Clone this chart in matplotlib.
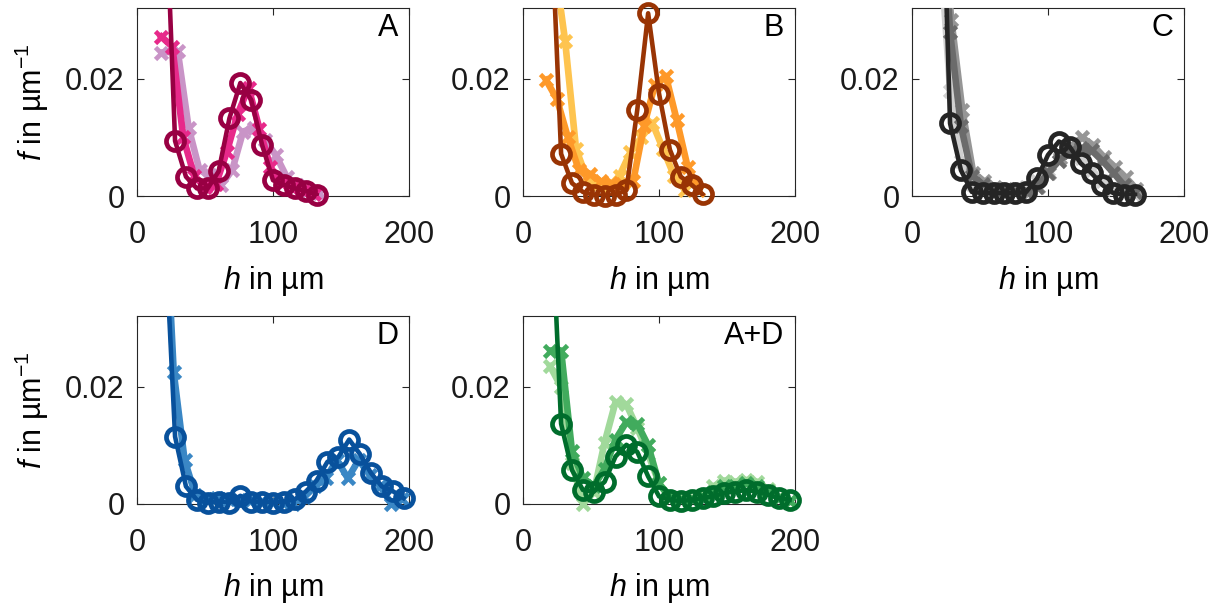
import numpy as np
import matplotlib
matplotlib.use('Agg')
import matplotlib.pyplot as plt

plt.rcParams['font.family'] = ['Liberation Sans', 'DejaVu Sans']
plt.rcParams['mathtext.fontset'] = 'custom'
plt.rcParams['mathtext.rm'] = 'Liberation Sans'
plt.rcParams['mathtext.it'] = 'Liberation Sans:italic'

# Panel A
a_x_light = [18, 30, 38, 46, 54, 62, 70, 78, 86, 94, 102, 110, 118, 126, 134]
a_y_light = [0.0245, 0.0247, 0.0116, 0.0044, 0.0036, 0.0019, 0.0044, 0.0110, 0.0116, 0.0096,
             0.0070, 0.0033, 0.0019, 0.0010, 0.0005]
a_x_mid = [18, 26, 34, 42, 50, 58, 66, 74, 82, 90, 98, 106, 114, 122, 130]
a_y_mid = [0.0272, 0.0255, 0.0100, 0.0035, 0.0015, 0.0020, 0.0075, 0.0140, 0.0185, 0.0115,
           0.0050, 0.0022, 0.0013, 0.0008, 0.0004]
a_x_dark = [20, 28, 36, 44, 52, 60, 68, 76, 84, 92, 100, 108, 116, 124, 132]
a_y_dark = [0.058, 0.0094, 0.0033, 0.0013, 0.0013, 0.0042, 0.0133, 0.0193, 0.0164, 0.0087,
            0.0027, 0.0019, 0.0013, 0.0009, 0.0002]

# Panel B
b_x_light = [23, 31, 39, 47, 55, 63, 71, 79, 87, 95, 103, 111, 119]
b_y_light = [0.040, 0.0264, 0.0080, 0.0030, 0.0020, 0.0015, 0.0035, 0.0075, 0.0100, 0.0125,
             0.0080, 0.0035, 0.0010]
b_x_mid = [17, 25, 33, 41, 49, 57, 65, 73, 81, 89, 97, 105, 113, 121, 129]
b_y_mid = [0.0198, 0.0165, 0.0100, 0.0045, 0.0038, 0.0025, 0.0022, 0.0020, 0.0025, 0.0120,
           0.0190, 0.0205, 0.0130, 0.0050, 0.0010]
b_x_dark = [20, 28, 36, 44, 52, 60, 68, 76, 84, 92, 100, 108, 116, 124, 132]
b_y_dark = [0.0516, 0.0072, 0.0022, 0.0007, 0.0002, 0.0000, 0.0002, 0.0010, 0.0147, 0.0312,
            0.0175, 0.0079, 0.0033, 0.0019, 0.0003]

# Panel C
c_x = [20, 28, 36, 44, 52, 60, 68, 76, 84, 92, 100, 108, 116, 124, 132, 140, 148, 156, 164]
c_x_mid = [21, 29, 37, 45, 53, 61, 69, 77, 85, 93, 101, 109, 117, 125, 133, 141, 149, 157, 165]
c_y_light = [0.045, 0.018, 0.0060, 0.0020, 0.0010, 0.0008, 0.0008, 0.0010, 0.0015, 0.0025,
             0.0045, 0.0060, 0.0075, 0.0065, 0.0045, 0.0025, 0.0012, 0.0005, 0.0002]
c_y_mid = [0.050, 0.030, 0.0147, 0.0040, 0.0025, 0.0015, 0.0012, 0.0012, 0.0005, 0.0015,
           0.0040, 0.0065, 0.0085, 0.0100, 0.0087, 0.0067, 0.0050, 0.0032, 0.0012]
c_y_dkgray = [0.060, 0.028, 0.012, 0.0035, 0.0020, 0.0012, 0.0010, 0.0008, 0.0008, 0.0015,
              0.0040, 0.0060, 0.0075, 0.0082, 0.0078, 0.0060, 0.0040, 0.0018, 0.0006]
c_y_dark = [0.075, 0.0124, 0.0044, 0.0007, 0.0005, 0.0005, 0.0005, 0.0005, 0.0007, 0.0030,
            0.0070, 0.0093, 0.0084, 0.0056, 0.0039, 0.0019, 0.0005, 0.0002, 0.0002]

# Panel D
d_x_light = [19, 27, 35, 43, 51, 59, 67, 75, 83, 91, 99, 107, 115, 123, 131, 139, 147, 155,
             163, 171, 179, 187, 195]
d_y_light = [0.060, 0.0225, 0.0075, 0.0015, 0.0008, 0.0010, 0.0008, 0.0006, 0.0005, 0.0004,
             0.0003, 0.0002, 0.0000, 0.0012, 0.0030, 0.0045, 0.0075, 0.0044, 0.0075, 0.0050,
             0.0030, 0.0000, 0.0008]
d_x_dark = [20, 28, 36, 44, 52, 60, 68, 76, 84, 92, 100, 108, 116, 124, 132, 140, 148, 156,
            164, 172, 180, 188, 196]
d_y_dark = [0.050, 0.0115, 0.0030, 0.0007, 0.0002, 0.0004, 0.0002, 0.0014, 0.0004, 0.0004,
            0.0002, 0.0004, 0.0008, 0.0021, 0.0040, 0.0072, 0.0080, 0.0110, 0.0085, 0.0053,
            0.0030, 0.0022, 0.0010]

# Panel A+D
ad_x = [20, 28, 36, 44, 52, 60, 68, 76, 84, 92, 100, 108, 116, 124, 132, 140, 148, 156,
        164, 172, 180, 188, 196]
ad_y_light = [0.0235, 0.0200, 0.0070, 0.0000, 0.0020, 0.0105, 0.0174, 0.0170, 0.0130, 0.0085,
              0.0035, 0.0012, 0.0010, 0.0010, 0.0015, 0.0030, 0.0040, 0.0038, 0.0041, 0.0038,
              0.0025, 0.0012, 0.0005]
ad_y_mid = [0.0262, 0.0262, 0.0090, 0.0045, 0.0030, 0.0060, 0.0110, 0.0140, 0.0137, 0.0100,
            0.0035, 0.0010, 0.0008, 0.0008, 0.0012, 0.0020, 0.0030, 0.0030, 0.0035, 0.0030,
            0.0022, 0.0010, 0.0005]
ad_y_dark = [0.055, 0.0137, 0.0058, 0.0024, 0.0021, 0.0038, 0.0081, 0.0101, 0.0089, 0.0047,
             0.0013, 0.0007, 0.0005, 0.0007, 0.0010, 0.0013, 0.0019, 0.0021, 0.0024, 0.0021,
             0.0016, 0.0010, 0.0007]

YMAX = 0.0321
EDGE = '#262626'


def draw(ax, x, y, color, marker, z):
    x = np.asarray(x, dtype=float)
    y = np.asarray(y, dtype=float)
    if marker == 'o':
        lw, ms, mew = 3.3, 13, 3.4
    else:
        lw, ms, mew = 4.8, 8.5, 3.4
    ax.plot(x, y, '-', color=color, lw=lw, zorder=z, solid_joinstyle='round')
    # markers of points inside the axes are not cut at the box
    inside = y <= YMAX
    ax.plot(x[inside], y[inside], ls='none', marker=marker, ms=ms, mew=mew,
            mec=color, mfc='none', clip_on=False, zorder=z)


def setup(ax, letter, ylabel):
    ax.set_xlim(0, 200)
    ax.set_ylim(0, YMAX)
    ax.set_xticks([0, 100, 200])
    ax.set_yticks([0, 0.02])
    ax.set_yticklabels(['0', '0.02'])
    ax.tick_params(direction='in', top=True, right=True, length=5, width=0.8,
                   color=EDGE, labelsize=22, labelcolor='#1a1a1a')
    ax.tick_params(axis='x', pad=17)
    ax.tick_params(axis='y', pad=9)
    for s in ax.spines.values():
        s.set_color(EDGE)
        s.set_linewidth(0.8)
    ax.text(0.96, 0.975, letter, transform=ax.transAxes, ha='right', va='top',
            fontsize=22, zorder=20)
    ax.set_xlabel('$h$ in µm', fontsize=22, labelpad=10)
    if ylabel:
        ax.set_ylabel('$f$ in µm$^{-1}$', fontsize=22, labelpad=10)


fig = plt.figure(figsize=(12.22, 6.07), dpi=100)
w, h = 0.2226, 0.3097
axA = fig.add_axes([0.1121, 0.6771, w, h])
axB = fig.add_axes([0.4280, 0.6771, w, h])
axC = fig.add_axes([0.7463, 0.6771, w, h])
axD = fig.add_axes([0.1121, 0.1697, w, h])
axAD = fig.add_axes([0.4280, 0.1697, w, h])

draw(axA, a_x_light, a_y_light, '#c994c7', 'x', 3)
draw(axA, a_x_mid, a_y_mid, '#e7298a', 'x', 4)
draw(axA, a_x_dark, a_y_dark, '#980043', 'o', 5)
setup(axA, 'A', True)

draw(axB, b_x_light, b_y_light, '#fec44f', 'x', 3)
draw(axB, b_x_mid, b_y_mid, '#fe9929', 'x', 4)
draw(axB, b_x_dark, b_y_dark, '#993404', 'o', 5)
setup(axB, 'B', False)

draw(axC, c_x, c_y_light, '#d0d0d0', 'x', 3)
draw(axC, c_x_mid, c_y_mid, '#969696', 'x', 4)
draw(axC, c_x, c_y_dkgray, '#6b6b6b', 'x', 4.5)
draw(axC, c_x, c_y_dark, '#252525', 'o', 5)
setup(axC, 'C', False)

draw(axD, d_x_light, d_y_light, '#3a87c5', 'x', 3)
draw(axD, d_x_dark, d_y_dark, '#08519c', 'o', 5)
setup(axD, 'D', True)

draw(axAD, ad_x, ad_y_light, '#a1d99b', 'x', 3)
draw(axAD, ad_x, ad_y_mid, '#41ab5d', 'x', 4)
draw(axAD, ad_x, ad_y_dark, '#006d2c', 'o', 5)
setup(axAD, 'A+D', False)

fig.savefig('out.png', dpi=100)
